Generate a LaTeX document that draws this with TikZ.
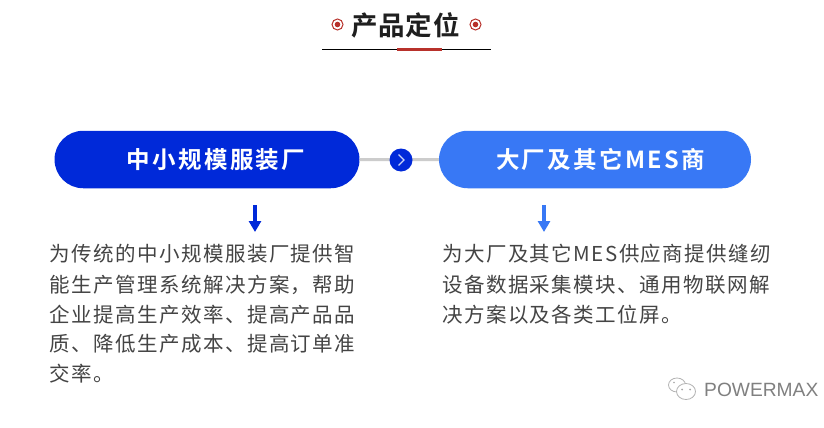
\documentclass[tikz,border=0pt]{standalone}
\usepackage{fontspec}
\setmainfont{Liberation Sans}
\newfontfamily\bodyf[LetterSpace=7]{Noto Sans CJK SC}
\newfontfamily\pillf[LetterSpace=10]{Noto Sans CJK SC Bold}
\newfontfamily\titlef[LetterSpace=3]{Noto Sans CJK SC Bold}
\usetikzlibrary{arrows.meta,shapes.misc}
\definecolor{navy}{HTML}{0029D9}
\definecolor{sky}{HTML}{3878F5}
\definecolor{ruby}{HTML}{B8312B}
\definecolor{ink}{HTML}{444444}
\tikzset{
  pill/.style={rounded rectangle,minimum height=57.5pt,inner sep=0pt,text=white,font=\fontsize{23.5}{23.5}\pillf},
  bodyline/.style={anchor=west,inner sep=0pt,text=ink,font=\fontsize{20.5}{20.5}\bodyf},
  dnarrow/.style={line width=3.4pt,-{Triangle[length=11pt,width=12pt]}},
  ringdot/.style={circle,draw=ruby,line width=1pt,minimum size=11pt,inner sep=0pt,path picture={\fill[ruby] (path picture bounding box.center) circle (2.8pt);}},
  wm/.style={draw=black!30,line width=.8pt,fill=white}
}
\begin{document}
\begin{tikzpicture}[x=1pt,y=-1pt]
\useasboundingbox (0,0) rectangle (824,428);
\fill[white] (0,0) rectangle (824,428);
% title
\node[inner sep=0pt,text=black!88,font=\fontsize{26.5}{26.5}\titlef] (title) at (405.5,25) {产品定位};
\node[ringdot] (dotl) at (337.5,24.5) {};
\node[ringdot] (dotr) at (475.5,24.5) {};
\coordinate (rulea) at (322,50);
\coordinate (ruleb) at (491,50);
\draw[black,line width=1pt] (rulea) -- (ruleb);
\coordinate (reda) at (397,49.5);
\coordinate (redb) at (442,49.5);
\draw[ruby,line width=2.6pt] (reda) -- (redb);
% pills
\node[pill,fill=navy,minimum width=305pt] (small) at (207,159.5) {\hspace*{18pt}中小规模服装厂};
\node[pill,fill=sky,minimum width=312pt] (big) at (595,159.5) {\hspace*{11pt}大厂及其它MES商};
\draw[black!20,line width=3pt] (small) -- (big);
\node[circle,fill=navy,minimum size=23pt,inner sep=0pt] (next) at (401,160) {};
\draw[white!80!navy,line width=1.3pt] ([xshift=-2.5pt,yshift=5.5pt]next.center) -- ([xshift=3pt]next.center) -- ([xshift=-2.5pt,yshift=-5.5pt]next.center);
% arrows
\coordinate (a1s) at (255,205);
\coordinate (a1e) at (255,232);
\draw[dnarrow,navy] (a1s) -- (a1e);
\coordinate (a2s) at (544,205);
\coordinate (a2e) at (544,232);
\draw[dnarrow,sky] (a2s) -- (a2e);
% left text
\node[bodyline] (l1) at (49.5,254) {为传统的中小规模服装厂提供智};
\node[bodyline] (l2) at (49.5,285) {能生产管理系统解决方案，帮助};
\node[bodyline] (l3) at (49.5,315) {企业提高生产效率、提高产品品};
\node[bodyline] (l4) at (49.5,344) {质、降低生产成本、提高订单准};
\node[bodyline] (l5) at (49.5,374) {交率。};
% right text
\node[bodyline] (r1) at (442,254) {为大厂及其它MES供应商提供缝纫};
\node[bodyline] (r2) at (442,285) {设备数据采集模块、通用物联网解};
\node[bodyline] (r3) at (442,315) {决方案以及各类工位屏。};
% watermark
\draw[wm] (677,385) ellipse (8.5pt and 7pt);
\draw[wm] (686,391.5) ellipse (9.5pt and 8pt);
\fill[black!35] (682,389.5) circle (1pt) (690,389.5) circle (1pt) (674,382.5) circle (.9pt);
\node[anchor=west,inner sep=0pt,text=black!50,font=\fontsize{19.2}{19.2}\selectfont] (brand) at (704,390) {POWERMAX};
\end{tikzpicture}
\end{document}
